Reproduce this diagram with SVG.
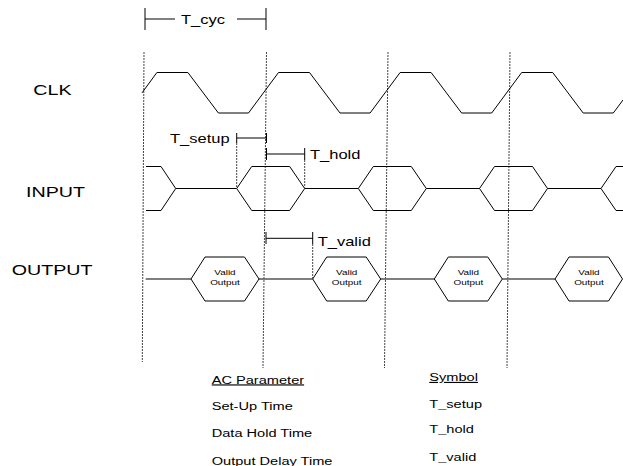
<svg xmlns="http://www.w3.org/2000/svg" width="623" height="466" viewBox="0 0 623 466">
<style>
  text { font-family: "Liberation Sans", Arial, sans-serif; fill: #000; }
  .lbl { font-size: 15.5px; }
  .tm { font-size: 13px; }
  .tb { font-size: 11.5px; }
  .ul { text-decoration: underline; }
  .vo { font-size: 7.8px; text-anchor: middle; }
  .wave { fill: none; stroke: #000; stroke-width: 1; }
  .mid { fill: none; stroke: #555; stroke-width: 1.4; }
  .dash { fill: none; stroke: #444; stroke-width: 1; stroke-dasharray: 2 1; }
  .ann { fill: none; stroke: #000; stroke-width: 1; }
</style>
<rect width="623" height="466" fill="#fff"/>

<g id="signal-labels">
  <text class="lbl" transform="translate(33.3 95) scale(1.27 1)">CLK</text>
  <text class="lbl" transform="translate(26 196.7) scale(1.27 1)">INPUT</text>
  <text class="lbl" transform="translate(11.7 275) scale(1.27 1)">OUTPUT</text>
</g>

<g id="clock-edges">
  <line class="dash" x1="144" y1="52" x2="142.3" y2="362"/>
  <line class="dash" x1="266.5" y1="52" x2="263" y2="368"/>
  <line class="dash" x1="388" y1="52" x2="384.5" y2="368"/>
  <line class="dash" x1="510" y1="52" x2="507" y2="368"/>
</g>

<g id="clk">
  <polyline class="wave" points="142,92.9 156.9,72.5 187.9,72.5 218.4,113 248.5,113 278.5,72.5 309.5,72.5 340,113 370.1,113 400.1,72.5 431.1,72.5 461.6,113 491.7,113 521.7,72.5 552.7,72.5 583.2,113 613.3,113 623,100"/>
</g>

<g id="input">
  <polyline class="wave" points="146,166.5 161,166.5 175.7,188.5 161,210.5 146,210.5"/>
  <line class="wave" x1="175.7" y1="188.5" x2="236.7" y2="188.5"/>
  <polygon class="wave" points="236.7,188.5 251.7,166.5 289.7,166.5 304.7,188.5 289.7,210.5 251.7,210.5"/>
  <line class="wave" x1="304.7" y1="188.5" x2="358.3" y2="188.5"/>
  <polygon class="wave" points="358.3,188.5 373.3,166.5 411.3,166.5 426.3,188.5 411.3,210.5 373.3,210.5"/>
  <line class="wave" x1="426.3" y1="188.5" x2="479.5" y2="188.5"/>
  <polygon class="wave" points="479.5,188.5 494.5,166.5 532.5,166.5 547.5,188.5 532.5,210.5 494.5,210.5"/>
  <line class="wave" x1="547.5" y1="188.5" x2="601" y2="188.5"/>
  <polyline class="wave" points="630,166.5 616,166.5 601,188.5 616,210.5 630,210.5"/>
</g>

<g id="output">
  <line class="mid" x1="145.7" y1="279" x2="191" y2="279"/>
  <line class="mid" x1="259" y1="279" x2="312.7" y2="279"/>
  <line class="mid" x1="380.7" y1="279" x2="434.3" y2="279"/>
  <line class="mid" x1="502.3" y1="279" x2="555" y2="279"/>
  <g id="valid-output-1">
    <polygon class="wave" points="191,279 205,257 244.5,257 259,279 244.5,301 205,301"/>
    <text class="vo" transform="translate(225 275) scale(1.27 1)">Valid</text>
    <text class="vo" transform="translate(225 284.5) scale(1.27 1)">Output</text>
  </g>
  <g id="valid-output-2">
    <polygon class="wave" points="312.7,279 326.7,257 366.2,257 380.7,279 366.2,301 326.7,301"/>
    <text class="vo" transform="translate(346.7 275) scale(1.27 1)">Valid</text>
    <text class="vo" transform="translate(346.7 284.5) scale(1.27 1)">Output</text>
  </g>
  <g id="valid-output-3">
    <polygon class="wave" points="434.3,279 448.3,257 487.8,257 502.3,279 487.8,301 448.3,301"/>
    <text class="vo" transform="translate(468.3 275) scale(1.27 1)">Valid</text>
    <text class="vo" transform="translate(468.3 284.5) scale(1.27 1)">Output</text>
  </g>
  <g id="valid-output-4">
    <polygon class="wave" points="555,279 569,257 608.5,257 622.5,279 608.5,301 569,301"/>
    <text class="vo" transform="translate(589 275) scale(1.27 1)">Valid</text>
    <text class="vo" transform="translate(589 284.5) scale(1.27 1)">Output</text>
  </g>
</g>

<g id="t-cyc">
  <line class="ann" x1="145" y1="8" x2="145" y2="30"/>
  <line class="ann" x1="266" y1="8" x2="266" y2="30"/>
  <line class="ann" x1="145" y1="19" x2="175" y2="19"/>
  <line class="ann" x1="237" y1="19" x2="266" y2="19"/>
  <text class="tm" transform="translate(181 24) scale(1.27 1)">T_cyc</text>
</g>

<g id="t-setup">
  <line class="ann" x1="236.7" y1="133" x2="236.7" y2="143"/>
  <line class="ann" x1="266.5" y1="133" x2="266.5" y2="143"/>
  <line class="ann" x1="236.7" y1="138" x2="266.5" y2="138"/>
  <line class="dash" x1="236.7" y1="143" x2="236.7" y2="188.5"/>
  <text class="tm" transform="translate(170 142.7) scale(1.27 1)">T_setup</text>
</g>

<g id="t-hold">
  <line class="ann" x1="266.5" y1="148" x2="266.5" y2="160"/>
  <line class="ann" x1="304.7" y1="148" x2="304.7" y2="160"/>
  <line class="ann" x1="266.5" y1="154" x2="304.7" y2="154"/>
  <line class="dash" x1="304.7" y1="160" x2="304.7" y2="188.5"/>
  <text class="tm" transform="translate(310 159.3) scale(1.27 1)">T_hold</text>
</g>

<g id="t-valid">
  <line class="ann" x1="266" y1="232" x2="266" y2="244"/>
  <line class="ann" x1="312.7" y1="232" x2="312.7" y2="244"/>
  <line class="ann" x1="266" y1="238.3" x2="312.7" y2="238.3"/>
  <line class="dash" x1="312.7" y1="244" x2="312.7" y2="279"/>
  <text class="tm" transform="translate(317.7 246) scale(1.27 1)">T_valid</text>
</g>

<g id="parameter-table">
  <text class="tb ul" transform="translate(211.7 383.5) scale(1.27 1)">AC Parameter</text>
  <text class="tb ul" transform="translate(429.3 381) scale(1.27 1)">Symbol</text>
  <text class="tb" transform="translate(211.7 410) scale(1.27 1)">Set-Up Time</text>
  <text class="tb" transform="translate(429.3 407.5) scale(1.27 1)">T_setup</text>
  <text class="tb" transform="translate(211.7 436.7) scale(1.27 1)">Data Hold Time</text>
  <text class="tb" transform="translate(429.3 433.3) scale(1.27 1)">T_hold</text>
  <text class="tb" transform="translate(211.7 464.5) scale(1.27 1)">Output Delay Time</text>
  <text class="tb" transform="translate(429.3 461) scale(1.27 1)">T_valid</text>
</g>
</svg>
